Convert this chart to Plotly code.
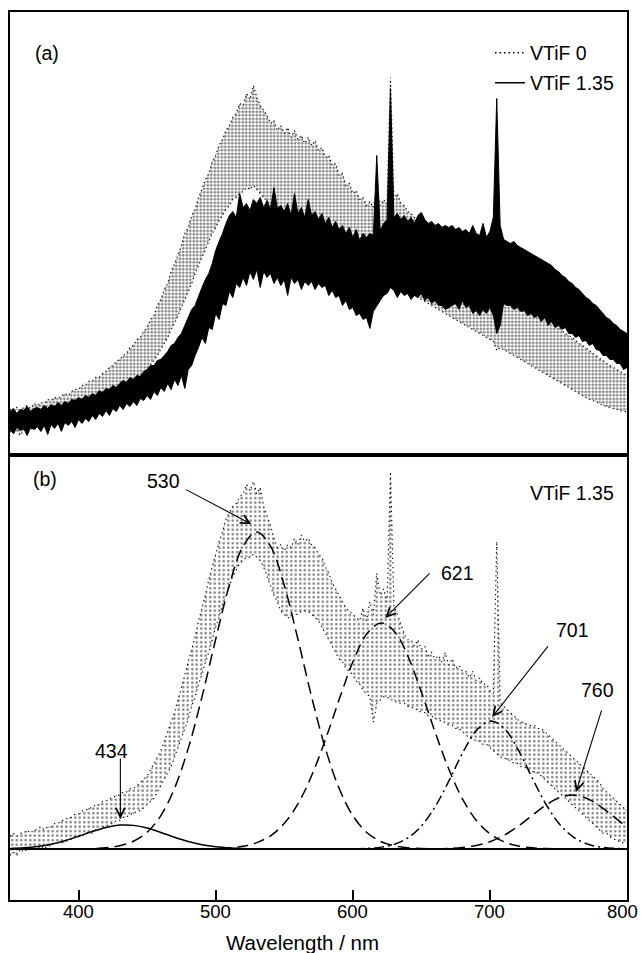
import numpy as np
import plotly.graph_objects as go

# ---------------- data ----------------
WAVELENGTH = np.round(np.arange(350, 800.01, 2.5), 1)   # nm grid, 181 points

# Panel (a): VTiF 1.35 (solid) - upper / lower edges of the noisy trace, a.u.
VTIF135_A_UPPER = [
    44, 47, 42, 46, 45, 49, 44, 47,
    48, 46, 50, 47, 51, 49, 53, 50,
    54, 52, 56, 55, 58, 56, 60, 58,
    62, 60, 65, 63, 67, 66, 70, 68,
    72, 75, 73, 78, 76, 80, 79, 84,
    86, 90, 90, 95, 96, 100, 104, 110,
    112, 118, 122, 130, 138, 146, 150, 160,
    168, 176, 182, 192, 205, 214, 222, 232,
    240, 244, 238, 262, 248, 252, 245, 256,
    252, 258, 248, 255, 246, 268, 247, 250,
    244, 252, 240, 262, 242, 248, 238, 256,
    240, 244, 236, 242, 232, 238, 228, 234,
    226, 230, 222, 228, 218, 226, 215, 222,
    218, 222, 220, 300, 225, 232, 236, 367,
    238, 242, 236, 240, 234, 238, 232, 240,
    243, 236, 232, 234, 230, 232, 228, 230,
    228, 230, 226, 228, 224, 226, 222, 230,
    222, 220, 232, 218, 224, 238, 357, 230,
    216, 214, 212, 214, 210, 208, 206, 204,
    202, 200, 198, 196, 194, 192, 190, 186,
    184, 180, 178, 174, 172, 168, 166, 162,
    158, 156, 152, 150, 146, 142, 138, 136,
    132, 130, 126, 124, 122,
]
VTIF135_A_LOWER = [
    26, 22, 28, 25, 27, 20, 28, 26,
    29, 24, 30, 21, 31, 27, 32, 24,
    33, 30, 34, 28, 36, 32, 37, 34,
    40, 36, 42, 39, 45, 40, 47, 44,
    50, 46, 52, 49, 54, 50, 57, 55,
    60, 56, 64, 60, 68, 64, 72, 66,
    76, 70, 80, 67, 86, 90, 100, 108,
    118, 112, 128, 126, 142, 136, 152, 150,
    164, 158, 172, 168, 178, 170, 184, 176,
    186, 168, 184, 178, 182, 172, 178, 170,
    176, 160, 178, 172, 176, 166, 174, 170,
    174, 166, 172, 168, 170, 160, 165, 158,
    160, 150, 155, 146, 148, 140, 142, 136,
    138, 127, 144, 150, 155, 160, 162, 168,
    165, 158, 164, 160, 162, 156, 160, 158,
    162, 155, 158, 152, 155, 150, 150, 146,
    148, 150, 152, 146, 155, 148, 150, 142,
    145, 140, 146, 142, 148, 140, 122, 130,
    152, 150, 150, 146, 148, 144, 145, 140,
    142, 138, 140, 134, 138, 130, 134, 128,
    130, 126, 128, 122, 122, 118, 120, 114,
    115, 110, 112, 106, 105, 100, 100, 96,
    96, 92, 92, 86, 88,
]

# Panel (a): VTiF 0 (dotted) - upper / lower edges of the dot cloud, a.u.
VTIF0_A_UPPER = [
    46, 44, 48, 45, 48, 50, 47, 52,
    50, 53, 52, 56, 55, 58, 57, 60,
    62, 60, 64, 66, 66, 70, 70, 74,
    74, 78, 78, 82, 84, 88, 90, 94,
    96, 100, 102, 108, 110, 116, 118, 124,
    128, 136, 140, 150, 156, 166, 172, 184,
    192, 200, 210, 222, 228, 240, 246, 258,
    266, 276, 282, 294, 300, 310, 316, 325,
    330, 338, 342, 352, 350, 362, 356, 370,
    358, 350, 345, 340, 332, 335, 325, 330,
    322, 328, 318, 325, 316, 320, 312, 318,
    310, 315, 305, 308, 298, 300, 290, 292,
    280, 282, 270, 272, 262, 265, 256, 258,
    250, 254, 248, 268, 250, 256, 252, 378,
    256, 262, 252, 250, 244, 242, 238, 234,
    232, 228, 226, 222, 220, 218, 214, 212,
    210, 206, 204, 202, 200, 198, 196, 194,
    192, 190, 190, 186, 186, 182, 250, 178,
    176, 172, 170, 166, 164, 160, 158, 154,
    152, 148, 146, 142, 140, 136, 134, 130,
    128, 125, 122, 120, 118, 115, 112, 110,
    108, 105, 102, 100, 97, 95, 92, 90,
    88, 86, 84, 82, 80,
]
VTIF0_A_LOWER = [
    24, 22, 25, 20, 26, 25, 27, 26,
    28, 27, 30, 29, 32, 31, 34, 33,
    36, 35, 38, 38, 41, 40, 44, 44,
    47, 47, 50, 51, 54, 55, 58, 60,
    62, 65, 68, 70, 74, 76, 80, 82,
    86, 90, 95, 100, 106, 112, 118, 126,
    132, 140, 148, 156, 165, 172, 182, 190,
    198, 206, 214, 222, 228, 235, 240, 246,
    250, 256, 258, 262, 264, 268, 266, 270,
    266, 262, 258, 254, 250, 248, 244, 242,
    240, 238, 236, 236, 234, 232, 230, 228,
    226, 224, 222, 218, 214, 210, 205, 200,
    196, 192, 188, 184, 180, 176, 174, 172,
    170, 168, 168, 170, 170, 172, 172, 174,
    172, 170, 168, 166, 164, 162, 160, 158,
    156, 154, 152, 150, 148, 146, 144, 142,
    140, 138, 136, 134, 132, 130, 128, 126,
    124, 122, 120, 118, 116, 114, 105, 108,
    106, 104, 102, 100, 98, 96, 94, 92,
    90, 88, 86, 84, 82, 80, 78, 76,
    74, 72, 70, 68, 66, 64, 62, 60,
    58, 56, 55, 54, 52, 50, 49, 48,
    47, 46, 45, 44, 44,
]

# Panel (b): VTiF 1.35 after background removal (dotted) - cloud edges, normalised
VTIF135_B_UPPER = [
    0.04, 0.05, 0.04, 0.05, 0.05, 0.06, 0.05, 0.06,
    0.06, 0.07, 0.06, 0.07, 0.07, 0.08, 0.08, 0.09,
    0.09, 0.10, 0.10, 0.11, 0.11, 0.12, 0.12, 0.13,
    0.13, 0.14, 0.14, 0.15, 0.15, 0.16, 0.16, 0.17,
    0.17, 0.18, 0.18, 0.19, 0.19, 0.20, 0.21, 0.22,
    0.23, 0.25, 0.27, 0.29, 0.31, 0.34, 0.37, 0.40,
    0.43, 0.47, 0.51, 0.55, 0.59, 0.63, 0.67, 0.72,
    0.76, 0.80, 0.85, 0.89, 0.93, 0.97, 1.00, 1.04,
    1.06, 1.08, 1.09, 1.11, 1.12, 1.15, 1.13, 1.16,
    1.12, 1.14, 1.08, 1.05, 1.02, 0.98, 0.95, 0.96,
    0.94, 0.96, 0.95, 0.98, 0.96, 0.99, 0.97, 0.98,
    0.96, 0.95, 0.93, 0.92, 0.89, 0.87, 0.84, 0.82,
    0.80, 0.78, 0.76, 0.75, 0.74, 0.73, 0.72, 0.76,
    0.72, 0.78, 0.74, 0.87, 0.80, 0.82, 0.78, 1.19,
    0.77, 0.74, 0.71, 0.68, 0.66, 0.66, 0.64, 0.66,
    0.63, 0.64, 0.61, 0.62, 0.60, 0.61, 0.59, 0.62,
    0.58, 0.60, 0.57, 0.58, 0.56, 0.56, 0.54, 0.56,
    0.53, 0.54, 0.52, 0.52, 0.50, 0.49, 0.97, 0.46,
    0.45, 0.44, 0.43, 0.42, 0.41, 0.40, 0.40, 0.39,
    0.39, 0.39, 0.38, 0.38, 0.37, 0.36, 0.35, 0.34,
    0.33, 0.32, 0.31, 0.30, 0.29, 0.28, 0.27, 0.26,
    0.25, 0.24, 0.23, 0.22, 0.21, 0.19, 0.18, 0.17,
    0.16, 0.15, 0.14, 0.13, 0.12,
]
VTIF135_B_LOWER = [
    -0.02, -0.01, -0.02, 0.00, -0.01, 0.00, 0.00, 0.00,
    0.00, 0.01, 0.00, 0.01, 0.01, 0.02, 0.02, 0.02,
    0.02, 0.03, 0.03, 0.04, 0.04, 0.04, 0.05, 0.05,
    0.05, 0.06, 0.06, 0.07, 0.07, 0.08, 0.08, 0.09,
    0.09, 0.10, 0.10, 0.11, 0.11, 0.12, 0.12, 0.13,
    0.14, 0.15, 0.16, 0.18, 0.20, 0.22, 0.24, 0.26,
    0.29, 0.32, 0.35, 0.38, 0.41, 0.45, 0.48, 0.52,
    0.55, 0.59, 0.62, 0.66, 0.70, 0.73, 0.77, 0.80,
    0.83, 0.86, 0.88, 0.90, 0.91, 0.92, 0.92, 0.93,
    0.92, 0.91, 0.89, 0.86, 0.83, 0.80, 0.78, 0.75,
    0.74, 0.73, 0.73, 0.74, 0.74, 0.75, 0.75, 0.75,
    0.74, 0.73, 0.72, 0.70, 0.68, 0.66, 0.64, 0.62,
    0.60, 0.59, 0.57, 0.56, 0.55, 0.53, 0.52, 0.50,
    0.49, 0.48, 0.40, 0.46, 0.47, 0.48, 0.48, 0.47,
    0.47, 0.46, 0.46, 0.46, 0.45, 0.45, 0.44, 0.44,
    0.43, 0.43, 0.42, 0.42, 0.41, 0.41, 0.40, 0.40,
    0.39, 0.39, 0.38, 0.38, 0.37, 0.36, 0.35, 0.35,
    0.34, 0.34, 0.33, 0.33, 0.32, 0.31, 0.30, 0.29,
    0.29, 0.28, 0.28, 0.27, 0.27, 0.26, 0.26, 0.25,
    0.25, 0.24, 0.24, 0.23, 0.22, 0.21, 0.20, 0.19,
    0.18, 0.17, 0.16, 0.15, 0.14, 0.13, 0.12, 0.11,
    0.10, 0.09, 0.08, 0.07, 0.06, 0.05, 0.05, 0.04,
    0.03, 0.03, 0.02, 0.02, 0.02,
]

G434_X = [350, 360, 370, 380, 390, 400, 410, 420, 430, 434, 440, 450, 460, 470,
          480, 490, 500, 510, 520, 530]
G434_Y = [0.0015, 0.0036, 0.0078, 0.0150, 0.0259, 0.0400, 0.0552, 0.0681, 0.0753,
          0.0760, 0.0745, 0.0659, 0.0522, 0.0370, 0.0235, 0.0133, 0.0068, 0.0031,
          0.0012, 0.0004]

G530_X = [400, 410, 420, 430, 440, 450, 460, 470, 480, 490, 500, 510, 520, 530,
          540, 550, 560, 570, 580, 590, 600, 610, 620, 630, 640, 650, 660]
G530_Y = [0.0004, 0.0013, 0.0039, 0.0101, 0.0243, 0.0529, 0.1054, 0.1915, 0.3173,
          0.4797, 0.6615, 0.8322, 0.9551, 1.0000, 0.9551, 0.8322, 0.6615, 0.4797,
          0.3173, 0.1915, 0.1054, 0.0529, 0.0243, 0.0101, 0.0039, 0.0013, 0.0004]

G621_X = [491, 501, 511, 521, 531, 541, 551, 561, 571, 581, 591, 601, 611, 621,
          631, 641, 651, 661, 671, 681, 691, 701, 711, 721, 731, 741, 751]
G621_Y = [0.0004, 0.0014, 0.0038, 0.0094, 0.0215, 0.0448, 0.0856, 0.150, 0.242,
          0.357, 0.483, 0.600, 0.683, 0.713, 0.683, 0.600, 0.483, 0.357, 0.242,
          0.150, 0.0856, 0.0448, 0.0215, 0.0094, 0.0038, 0.0014, 0.0004]

G701_X = [601, 611, 621, 631, 641, 651, 661, 671, 681, 691, 701, 711, 721, 731,
          741, 751, 761, 771, 781, 791, 801]
G701_Y = [0.0005, 0.0019, 0.0059, 0.0158, 0.0374, 0.0774, 0.1403, 0.2228, 0.310,
          0.378, 0.404, 0.378, 0.310, 0.2228, 0.1403, 0.0774, 0.0374, 0.0158,
          0.0059, 0.0019, 0.0005]

G760_X = [660, 670, 680, 690, 700, 710, 720, 730, 740, 750, 760, 770, 780, 790,
          800, 810, 820]
G760_Y = [0.0007, 0.0019, 0.0049, 0.0112, 0.0230, 0.0424, 0.0699, 0.1031, 0.136,
          0.161, 0.170, 0.161, 0.136, 0.1031, 0.0699, 0.0424, 0.0230]

PEAK_LABELS = ["434", "530", "621", "701", "760"]
X_TICKS = [400, 500, 600, 700, 800]
X_TICK_LABELS = ["400", "500", "600", "700", "800"]

for arr in (VTIF135_A_UPPER, VTIF135_A_LOWER, VTIF0_A_UPPER, VTIF0_A_LOWER,
            VTIF135_B_UPPER, VTIF135_B_LOWER):
    assert len(arr) == len(WAVELENGTH), len(arr)

# ---------------- layout constants ----------------
FONT = "Liberation Sans, Arial, Helvetica, sans-serif"
BLACK = "#000000"
SPLIT = 0.5006
FS = 19.5
TICK_FS = 18.5

LABEL_POS = [(424.3, 0.309), (461.9, 1.160), (676.1, 0.872), (759.9, 0.692), (778.5, 0.503)]
ARROW_TAIL = [(430.5, 0.290), (477.3, 1.136), (657.1, 0.874), (743.2, 0.644), (781.8, 0.442)]
ARROW_TIP = [(430.5, 0.095), (526.0, 1.025), (623.7, 0.729), (701.6, 0.416), (762.8, 0.180)]

DOT_PATTERN_A = dict(shape=".", fgcolor=BLACK, bgcolor="rgba(0,0,0,0)", size=3.5,
                     solidity=0.48, fillmode="overlay")
DOT_PATTERN_B = dict(shape=".", fgcolor=BLACK, bgcolor="rgba(0,0,0,0)", size=4.5,
                     solidity=0.24, fillmode="overlay")

fig = go.Figure()

# ---- panel (a): VTiF 0 dot cloud
fig.add_trace(go.Scatter(
    x=WAVELENGTH, y=VTIF0_A_LOWER, mode="lines", showlegend=False,
    line=dict(color=BLACK, width=1.2, dash="1.2px,3px"),
    xaxis="x2", yaxis="y2"))
fig.add_trace(go.Scatter(
    x=WAVELENGTH, y=VTIF0_A_UPPER, mode="lines", showlegend=False,
    line=dict(color=BLACK, width=1.2, dash="1.2px,3px"),
    fill="tonexty", fillcolor="rgba(0,0,0,0)", fillpattern=DOT_PATTERN_A,
    xaxis="x2", yaxis="y2"))
# ---- panel (a): VTiF 1.35 dense solid trace
fig.add_trace(go.Scatter(
    x=WAVELENGTH, y=VTIF135_A_LOWER, mode="lines", showlegend=False,
    line=dict(color=BLACK, width=1),
    xaxis="x2", yaxis="y2"))
fig.add_trace(go.Scatter(
    x=WAVELENGTH, y=VTIF135_A_UPPER, mode="lines", showlegend=False,
    line=dict(color=BLACK, width=1), fill="tonexty", fillcolor=BLACK,
    xaxis="x2", yaxis="y2"))
# legend entries
fig.add_trace(go.Scatter(
    x=[None], y=[None], mode="lines", name="VTiF 0",
    line=dict(color=BLACK, width=1.5, dash="1.5px,3px"),
    xaxis="x2", yaxis="y2", legend="legend"))
fig.add_trace(go.Scatter(
    x=[None], y=[None], mode="lines", name="VTiF 1.35",
    line=dict(color=BLACK, width=1.5),
    xaxis="x2", yaxis="y2", legend="legend2"))

# ---- panel (b): data cloud
fig.add_trace(go.Scatter(
    x=WAVELENGTH, y=VTIF135_B_LOWER, mode="lines", showlegend=False,
    line=dict(color=BLACK, width=1.2, dash="1.2px,3.5px"),
    xaxis="x", yaxis="y"))
fig.add_trace(go.Scatter(
    x=WAVELENGTH, y=VTIF135_B_UPPER, mode="lines", showlegend=False,
    line=dict(color=BLACK, width=1.2, dash="1.2px,3.5px"),
    fill="tonexty", fillcolor="rgba(0,0,0,0)", fillpattern=DOT_PATTERN_B,
    xaxis="x", yaxis="y"))

comp_styles = [
    (G434_X, G434_Y, "solid"),
    (G530_X, G530_Y, "12px,6px"),
    (G621_X, G621_Y, "11px,6px"),
    (G701_X, G701_Y, "10px,4px,2px,4px"),
    (G760_X, G760_Y, "12px,6px"),
]
for gx, gy, dash in comp_styles:
    fig.add_trace(go.Scatter(
        x=gx, y=gy, mode="lines", showlegend=False, line_shape="spline",
        line=dict(color=BLACK, width=1.5, dash=dash),
        xaxis="x", yaxis="y"))

annotations = []
for lab, (lx, ly), (tx, ty), (px, py) in zip(PEAK_LABELS, LABEL_POS, ARROW_TAIL, ARROW_TIP):
    annotations.append(dict(
        x=lx, y=ly, xref="x", yref="y", text=lab, showarrow=False,
        font=dict(family=FONT, size=FS, color=BLACK)))
    annotations.append(dict(
        x=px, y=py, xref="x", yref="y", ax=tx, ay=ty, axref="x", ayref="y",
        text="", showarrow=True, arrowhead=5, arrowsize=1.6, arrowwidth=1.1,
        arrowcolor=BLACK, standoff=0, startstandoff=0))

# x tick labels (the last one kept inside the page edge)
for v, t in zip(X_TICKS, X_TICK_LABELS):
    last = v == X_TICKS[-1]
    annotations.append(dict(
        x=v, y=(900 - 911) / 888, xref="x", yref="paper",
        xanchor="right" if last else "center", yanchor="middle",
        xshift=13 if last else 0, text=t, showarrow=False,
        font=dict(family=FONT, size=TICK_FS, color=BLACK)))

annotations += [
    dict(x=(33 - 10) / 617, y=(900 - 40) / 888, xref="paper", yref="paper",
         text="(a)", showarrow=False, font=dict(family=FONT, size=FS, color=BLACK)),
    dict(x=(31 - 10) / 617, y=(900 - 479) / 888, xref="paper", yref="paper",
         text="(b)", showarrow=False, font=dict(family=FONT, size=FS, color=BLACK)),
    dict(x=(616 - 10) / 617, y=(900 - 493) / 888, xref="paper", yref="paper",
         xanchor="right", text="VTiF 1.35", showarrow=False,
         font=dict(family=FONT, size=FS, color=BLACK)),
    dict(x=(302 - 10) / 617, y=(900 - 943) / 888, xref="paper", yref="paper",
         xanchor="center", yanchor="middle",
         text="Wavelength / nm", showarrow=False,
         font=dict(family=FONT, size=20.5, color=BLACK)),
]

axis_common = dict(showline=True, linecolor=BLACK, linewidth=1.5, mirror=True,
                   showgrid=False, zeroline=False, automargin=False)

fig.update_layout(
    width=641, height=953,
    margin=dict(l=10, r=14, t=12, b=53, autoexpand=False),
    paper_bgcolor="white", plot_bgcolor="white",
    font=dict(family=FONT, size=FS, color=BLACK),
    xaxis=dict(domain=[0, 1], range=[350, 800], anchor="y", ticks="inside",
               tickvals=X_TICKS, ticklen=10, tickwidth=1.5, tickcolor=BLACK,
               showticklabels=False, **axis_common),
    xaxis2=dict(domain=[0, 1], range=[350, 800], anchor="y2", matches="x",
                showticklabels=False, ticks="", **axis_common),
    yaxis=dict(domain=[0, SPLIT], range=[-0.1609, 1.2413], anchor="x",
               showticklabels=False, ticks="", showline=True, linecolor=BLACK,
               linewidth=1.5, mirror=True, showgrid=False, automargin=False,
               zeroline=True, zerolinecolor=BLACK, zerolinewidth=1.5),
    yaxis2=dict(domain=[SPLIT, 1], range=[0, 443.5], anchor="x2",
                showticklabels=False, ticks="", **axis_common),
    legend=dict(x=(490 - 10) / 617, y=(900 - 53) / 888, xanchor="left", yanchor="middle",
                bgcolor="rgba(0,0,0,0)", borderwidth=0,
                font=dict(family=FONT, size=FS, color=BLACK)),
    legend2=dict(x=(490 - 10) / 617, y=(900 - 83) / 888, xanchor="left", yanchor="middle",
                 bgcolor="rgba(0,0,0,0)", borderwidth=0,
                 font=dict(family=FONT, size=FS, color=BLACK)),
    annotations=annotations,
    showlegend=True,
)

fig.write_html("out.html")
